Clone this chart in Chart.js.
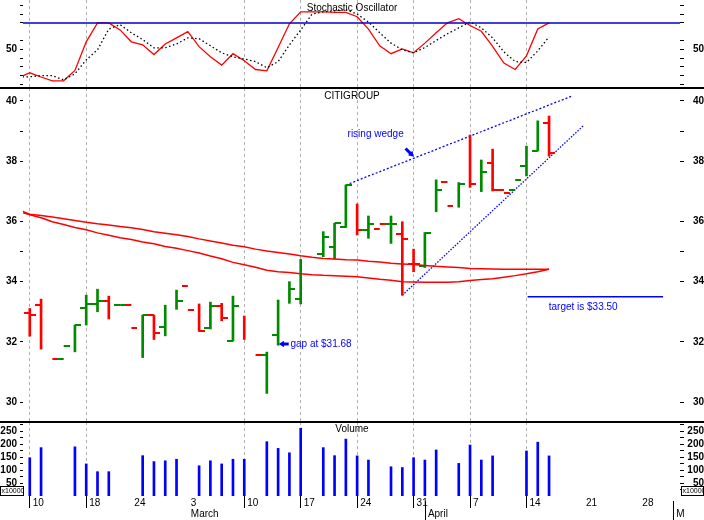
<!DOCTYPE html>
<html><head><meta charset="utf-8">
<script src="https://cdn.jsdelivr.net/npm/chart.js@4.4.1/dist/chart.umd.min.js"></script>
<style>
html,body{margin:0;padding:0;background:#fff;}
#wrap{position:relative;width:704px;height:520px;overflow:hidden;background:#fff;}
.pane{position:absolute;left:0;width:704px;}
.pane canvas{display:block;}
.sep{position:absolute;left:0;width:704px;height:2px;background:#000;z-index:5;}
</style></head><body>
<div id="wrap">
  <div class="pane" style="top:0;height:88px"><canvas id="osc" width="704" height="88"></canvas></div>
  <div class="pane" style="top:88px;height:334px"><canvas id="price" width="704" height="334"></canvas></div>
  <div class="pane" style="top:422px;height:98px"><canvas id="vol" width="704" height="98"></canvas></div>
  <div class="sep" style="top:87px"></div>
  <div class="sep" style="top:421px"></div>
</div>
<script>
// ---- trading-day axis (0 = Feb 10, future days are calendar weekdays) ----
const X_MIN = -0.6, X_MAX = 57.6;
const gridDays  = [0, 5, 19, 24, 29, 34, 39, 44];
const monthDays = [35, 57];
const labelDays = [0, 5, 9, 14, 19, 24, 29, 34, 35, 39, 44, 49, 54, 57];
const dayLabels = ['10','18','24','3','10','17','24','31','','7','14','21','28',''];
const monthNames = ['','','','March','','','','','April','','','','','M'];

// ---- price bars (days 0..46) ----
const openP  = [32.95,33.22,null,31.42,null,33.11,33.25,33.37,33.21,33.21,
                null,32.89,32.48,null,33.85,null,32.45,33.19,32.03,null,
                null,31.55,32.23,null,33.44,null,34.92,35.16,35.80,null,
                35.71,35.74,35.91,35.58,34.57,34.53,null,37.31,null,null,
                null,37.93,37.03,37.03,37.84,38.34,39.26];
const highP  = [33.11,33.42,null,null,32.56,33.55,33.75,33.52,null,null,
                32.89,32.89,33.22,33.72,null,33.26,33.32,33.28,33.52,32.86,
                null,31.66,33.39,34.00,34.74,null,35.66,35.94,37.21,36.58,
                36.18,null,36.18,35.99,35.08,35.63,37.38,null,37.29,38.87,
                38.04,38.40,null,null,38.50,39.34,39.50];
const lowP   = [32.19,31.76,null,null,31.67,32.56,33.00,32.76,null,null,
                31.48,32.08,32.20,33.08,null,32.35,32.43,32.70,32.03,32.08,
                null,30.29,31.89,33.28,33.26,null,34.83,34.75,35.80,35.55,
                35.44,null,35.27,33.55,34.33,34.47,36.32,null,36.47,37.13,
                36.99,37.01,null,null,37.51,38.34,38.17];
const closeP = [32.89,null,31.42,31.86,32.56,33.25,33.37,null,33.21,32.45,
                32.89,32.28,null,33.36,33.06,32.35,33.19,32.78,33.19,null,
                31.55,null,null,33.74,null,null,35.49,35.94,37.21,35.71,
                35.91,35.91,35.91,35.41,34.57,35.63,37.04,36.51,37.24,37.24,
                37.63,37.03,36.93,37.36,null,null,38.26];
const upDay  = [0,0,0,1,1,1,1,0,1,0, 1,0,1,1,0,0,1,0,1,0,
                0,1,1,1,1,1,1,1,1,0, 1,0,1,0,0,1,1,0,1,0, 1,0,0,1,1,1,0];
// volume, x10000 (days 0..46)
const volume = [148,187,null,null,190,124,94,94,null,null,
                156,133,136,142,null,117,136,124,142,142,
                null,210,184,167,262,null,187,156,220,155,
                139,null,113,110,148,139,178,null,126,197,
                139,155,null,null,174,208,155];

// ---- moving averages and stochastic (days -1..46) ----
const ma1 = [36.38, 36.24,36.20,36.15,36.09,36.03,35.97,35.92,35.88,35.83,35.79,
             35.73,35.66,35.61,35.56,35.50,35.42,35.35,35.28,35.21,35.16,
             35.08,35.02,34.97,34.92,34.86,34.81,34.77,34.75,34.73,34.72,
             34.68,34.65,34.61,34.59,34.57,34.54,34.51,34.49,34.47,34.44,
             34.43,34.42,34.41,34.41,34.41,34.41,34.41];
const ma2 = [36.33, 36.22,36.12,35.99,35.90,35.80,35.72,35.62,35.54,35.46,35.40,
             35.32,35.26,35.17,35.11,35.03,34.95,34.85,34.76,34.64,34.56,
             34.48,34.38,34.33,34.30,34.26,34.23,34.21,34.20,34.18,34.16,
             34.12,34.08,34.05,34.00,33.99,33.98,33.98,33.98,34.00,34.04,
             34.07,34.10,34.15,34.20,34.26,34.33,34.41];
const stochK = [17.6, 23.3,18.5,14.2,14.2,26,58.5,80,80,72,58.5,
                55,44,56,63,70,53,41.5,32,45,37,
                27,25.5,52,79,92.6,92.6,92.6,92,92,87,
                73,54,45,50.5,46,57,68.75,80,84.7,77,
                70.5,53.3,34.3,27,42.6,73,80];
const stochD = [18.75, 18.75,20,20,15.3,22,38,49.4,73,78,68.75,
                61,51.7,51.7,56,63,62,54,46,41.5,39,
                36,29,36,55,72,90,92.6,93.75,95,90,
                81,68.75,57,49.4,46,52,60,67.6,74.4,81,
                74.4,63,47,36,35,48.2,64];
const stochLevel = 80;

// ---- drawn trend lines and notes (day, price) ----
const wedgeUpper = [[28, 37.21], [48.07, 40.17]];
const wedgeLower = [[33, 33.55], [49.1, 39.2]];
const targetLine = [[44.1, 33.5], [56.1, 33.5]];
const notes = [
  { text: 'rising wedge',     day: 28.15, price: 38.90 },
  { text: 'gap at $31.68',    day: 23.09, price: 31.93 },
  { text: 'target is $33.50', day: 45.97, price: 33.16 }
];
const arrows = [
  { from: [33.29, 38.42], to: [34.02, 38.15] },
  { from: [22.94, 31.93], to: [22.06, 31.93] }
];

// ---------------------------------------------------------------
const FONT = '"Liberation Sans", Arial, sans-serif';
Chart.defaults.font.family = FONT;
Chart.defaults.font.size = 10;
Chart.defaults.color = '#000';
const RED = '#ff0000', GREEN = '#008a00', BLUE = '#0000ff';

const days = openP.map((_, i) => i);
const extDays = [-1].concat(days);
const pts = (xs, ys) => xs.map((x, k) => ({ x, y: ys[k] })).filter(p => p.y !== null);
const pairPts = arr => arr.map(p => ({ x: p[0], y: p[1] }));

function zeroPad(s) { s.paddingTop = 0; s.paddingBottom = 0; s.paddingLeft = 0; s.paddingRight = 0; }

function xAxis(withLabels) {
  return {
    type: 'linear', min: X_MIN, max: X_MAX, offset: false,
    afterBuildTicks: s => { s.ticks = (withLabels ? labelDays : gridDays).map(v => ({ value: v })); },
    afterFit: s => { s.height = withLabels ? 24 : 0; zeroPad(s); },
    grid: {
      offset: false,
      color: c => (c.tick && gridDays.includes(c.tick.value)) ? '#b0b0b0' : 'rgba(0,0,0,0)',
      lineWidth: 1, drawTicks: withLabels, tickLength: 12, tickWidth: 1,
      tickColor: c => (c.tick && gridDays.includes(c.tick.value)) ? '#000' : 'rgba(0,0,0,0)'
    },
    border: { display: false, dash: [3, 3] },
    ticks: withLabels ? {
      display: true, autoSkip: false, maxRotation: 0, minRotation: 0, align: 'start',
      labelOffset: 3, padding: -10, color: '#000',
      font: { size: 10, lineHeight: 1.1 },
      callback: v => { const k = labelDays.indexOf(v); return monthNames[k] ? [dayLabels[k], monthNames[k]] : dayLabels[k]; }
    } : { display: false }
  };
}

function yAxis(side, min, max, tickVals, labelVals) {
  const left = side === 'left';
  return {
    type: 'linear', position: side, min, max,
    afterBuildTicks: s => { s.ticks = tickVals.map(v => ({ value: v })); },
    afterFit: s => { s.width = left ? 23 : 24; zeroPad(s); },
    grid: { drawOnChartArea: false, drawTicks: true, tickLength: left ? 3 : 4, tickWidth: 1, tickColor: '#000', color: '#000' },
    border: { display: false },
    ticks: {
      autoSkip: false, padding: left ? 3 : 6, crossAlign: left ? 'near' : 'far', color: '#000',
      font: { size: 10, weight: 'bold' },
      callback: v => labelVals.includes(v) ? String(v) : ''
    }
  };
}

function titlePlugin(id, text, y) {
  return { id, afterDraw(chart) {
    const ctx = chart.ctx; ctx.save();
    ctx.font = '10px ' + FONT; ctx.fillStyle = '#000';
    ctx.textAlign = 'center'; ctx.textBaseline = 'middle';
    ctx.fillText(text, chart.width / 2, y); ctx.restore();
  } };
}

const baseOptions = {
  responsive: false, animation: false, events: [],
  layout: { padding: 0, autoPadding: false },
  plugins: { legend: { display: false }, tooltip: { enabled: false } }
};

// ---------------- Stochastic oscillator ----------------
new Chart(document.getElementById('osc'), {
  type: 'line',
  data: { datasets: [
    { data: pairPts([[X_MIN, stochLevel], [X_MAX, stochLevel]]), borderColor: '#0000cc', borderWidth: 1.5, pointRadius: 0 },
    { data: pts(extDays, stochD), borderColor: '#000', borderWidth: 1.3, borderDash: [1.5, 2.5], pointRadius: 0, tension: 0 },
    { data: pts(extDays, stochK), borderColor: RED, borderWidth: 1.3, pointRadius: 0, tension: 0 }
  ] },
  options: Object.assign({}, baseOptions, {
    scales: {
      x: xAxis(false),
      y: yAxis('left', 6, 106, [10,20,30,40,50,60,80,90,100], [50]),
      y2: yAxis('right', 6, 106, [10,20,30,40,50,60,80,90,100], [50])
    }
  }),
  plugins: [titlePlugin('t1', 'Stochastic Oscillator', 8)]
});

// ---------------- Price (OHLC) ----------------
function tickImage(color, side) {
  const c = document.createElement('canvas'); c.width = 12; c.height = 2;
  const g = c.getContext('2d'); g.fillStyle = color;
  g.fillRect(side === 'L' ? 0 : 6, 0, 6, 2);
  return c;
}
const tickImgs = { L1: tickImage(GREEN, 'L'), L0: tickImage(RED, 'L'), R1: tickImage(GREEN, 'R'), R0: tickImage(RED, 'R') };
const upOf = c => (c.raw && upDay[c.raw.x]) ? 1 : 0;

function drawArrow(ctx, x1, y1, x2, y2) {
  const ang = Math.atan2(y2 - y1, x2 - x1), head = 6;
  ctx.lineWidth = 3; ctx.beginPath(); ctx.moveTo(x1, y1);
  ctx.lineTo(x2 - Math.cos(ang) * 4, y2 - Math.sin(ang) * 4); ctx.stroke();
  ctx.beginPath(); ctx.moveTo(x2, y2);
  ctx.lineTo(x2 - head * Math.cos(ang - 0.55), y2 - head * Math.sin(ang - 0.55));
  ctx.lineTo(x2 - head * Math.cos(ang + 0.55), y2 - head * Math.sin(ang + 0.55));
  ctx.closePath(); ctx.fill();
}
const notePlugin = { id: 'notes', afterDatasetsDraw(chart) {
  const { ctx, scales: { x, y } } = chart;
  ctx.save(); ctx.fillStyle = BLUE; ctx.strokeStyle = BLUE;
  ctx.font = '10px ' + FONT; ctx.textAlign = 'left'; ctx.textBaseline = 'middle';
  notes.forEach(n => ctx.fillText(n.text, x.getPixelForValue(n.day), y.getPixelForValue(n.price)));
  arrows.forEach(a => drawArrow(ctx, x.getPixelForValue(a.from[0]), y.getPixelForValue(a.from[1]),
                                      x.getPixelForValue(a.to[0]), y.getPixelForValue(a.to[1])));
  ctx.restore();
} };

new Chart(document.getElementById('price'), {
  type: 'line',
  data: { datasets: [
    { data: pts(extDays, ma1), borderColor: RED, borderWidth: 1.5, pointRadius: 0, tension: 0 },
    { data: pts(extDays, ma2), borderColor: RED, borderWidth: 1.5, pointRadius: 0, tension: 0 },
    { type: 'bar', data: days.filter(i => highP[i] !== null).map(i => ({ x: i, y: [lowP[i], highP[i]] })),
      backgroundColor: c => upOf(c) ? GREEN : RED, barThickness: 2, borderWidth: 0 },
    { type: 'scatter', data: pts(days, openP), showLine: false, pointRadius: 1, pointBorderWidth: 0,
      pointStyle: c => tickImgs['L' + upOf(c)] },
    { type: 'scatter', data: pts(days, closeP), showLine: false, pointRadius: 1, pointBorderWidth: 0,
      pointStyle: c => tickImgs['R' + upOf(c)] },
    { data: pairPts(wedgeUpper), borderColor: BLUE, borderWidth: 1.3, borderDash: [2, 2], pointRadius: 0 },
    { data: pairPts(wedgeLower), borderColor: BLUE, borderWidth: 1.3, borderDash: [1.5, 1.5], pointRadius: 0 },
    { data: pairPts(targetLine), borderColor: BLUE, borderWidth: 1.5, pointRadius: 0 }
  ] },
  options: Object.assign({}, baseOptions, {
    scales: {
      x: xAxis(false),
      y: yAxis('left', 29.34, 40.43, [30,32,34,35,36,38,39,40], [30,32,34,36,38,40]),
      y2: yAxis('right', 29.34, 40.43, [30,32,34,35,36,38,39,40], [30,32,34,36,38,40])
    }
  }),
  plugins: [titlePlugin('t2', 'CITIGROUP', 8), notePlugin]
});

// ---------------- Volume ----------------
const volExtras = { id: 'volExtras', afterDraw(chart) {
  const { ctx, chartArea, scales: { x } } = chart;
  ctx.save();
  ctx.strokeStyle = '#000'; ctx.lineWidth = 1;
  monthDays.forEach(d => {
    const px = Math.round(x.getPixelForValue(d)) + 0.5;
    ctx.beginPath(); ctx.moveTo(px, chartArea.bottom + 5); ctx.lineTo(px, chart.height); ctx.stroke();
  });
  [[0.5, 23], [681.5, 22]].forEach(([bx, bw]) => {
    ctx.fillStyle = '#fff'; ctx.fillRect(bx, 64.5, bw, 9);
    ctx.strokeRect(bx, 64.5, bw, 9);
    ctx.save(); ctx.beginPath(); ctx.rect(bx, 64.5, bw, 9); ctx.clip();
    ctx.fillStyle = '#000'; ctx.font = '7px ' + FONT; ctx.textBaseline = 'middle'; ctx.textAlign = 'left';
    ctx.fillText('x10000', bx + 1, 69.5); ctx.restore();
  });
  ctx.restore();
} };

new Chart(document.getElementById('vol'), {
  type: 'line',
  data: { datasets: [
    { type: 'bar', data: pts(days, volume), backgroundColor: BLUE, barThickness: 2, borderWidth: 0 }
  ] },
  options: Object.assign({}, baseOptions, {
    scales: {
      x: xAxis(true),
      y: yAxis('left', 0, 286, [25,50,75,100,125,150,175,200,225,250,275], [50,100,150,200,250]),
      y2: yAxis('right', 0, 286, [25,50,75,100,125,150,175,200,225,250,275], [50,100,150,200,250])
    }
  }),
  plugins: [titlePlugin('t3', 'Volume', 7), volExtras]
});
</script>
</body></html>
